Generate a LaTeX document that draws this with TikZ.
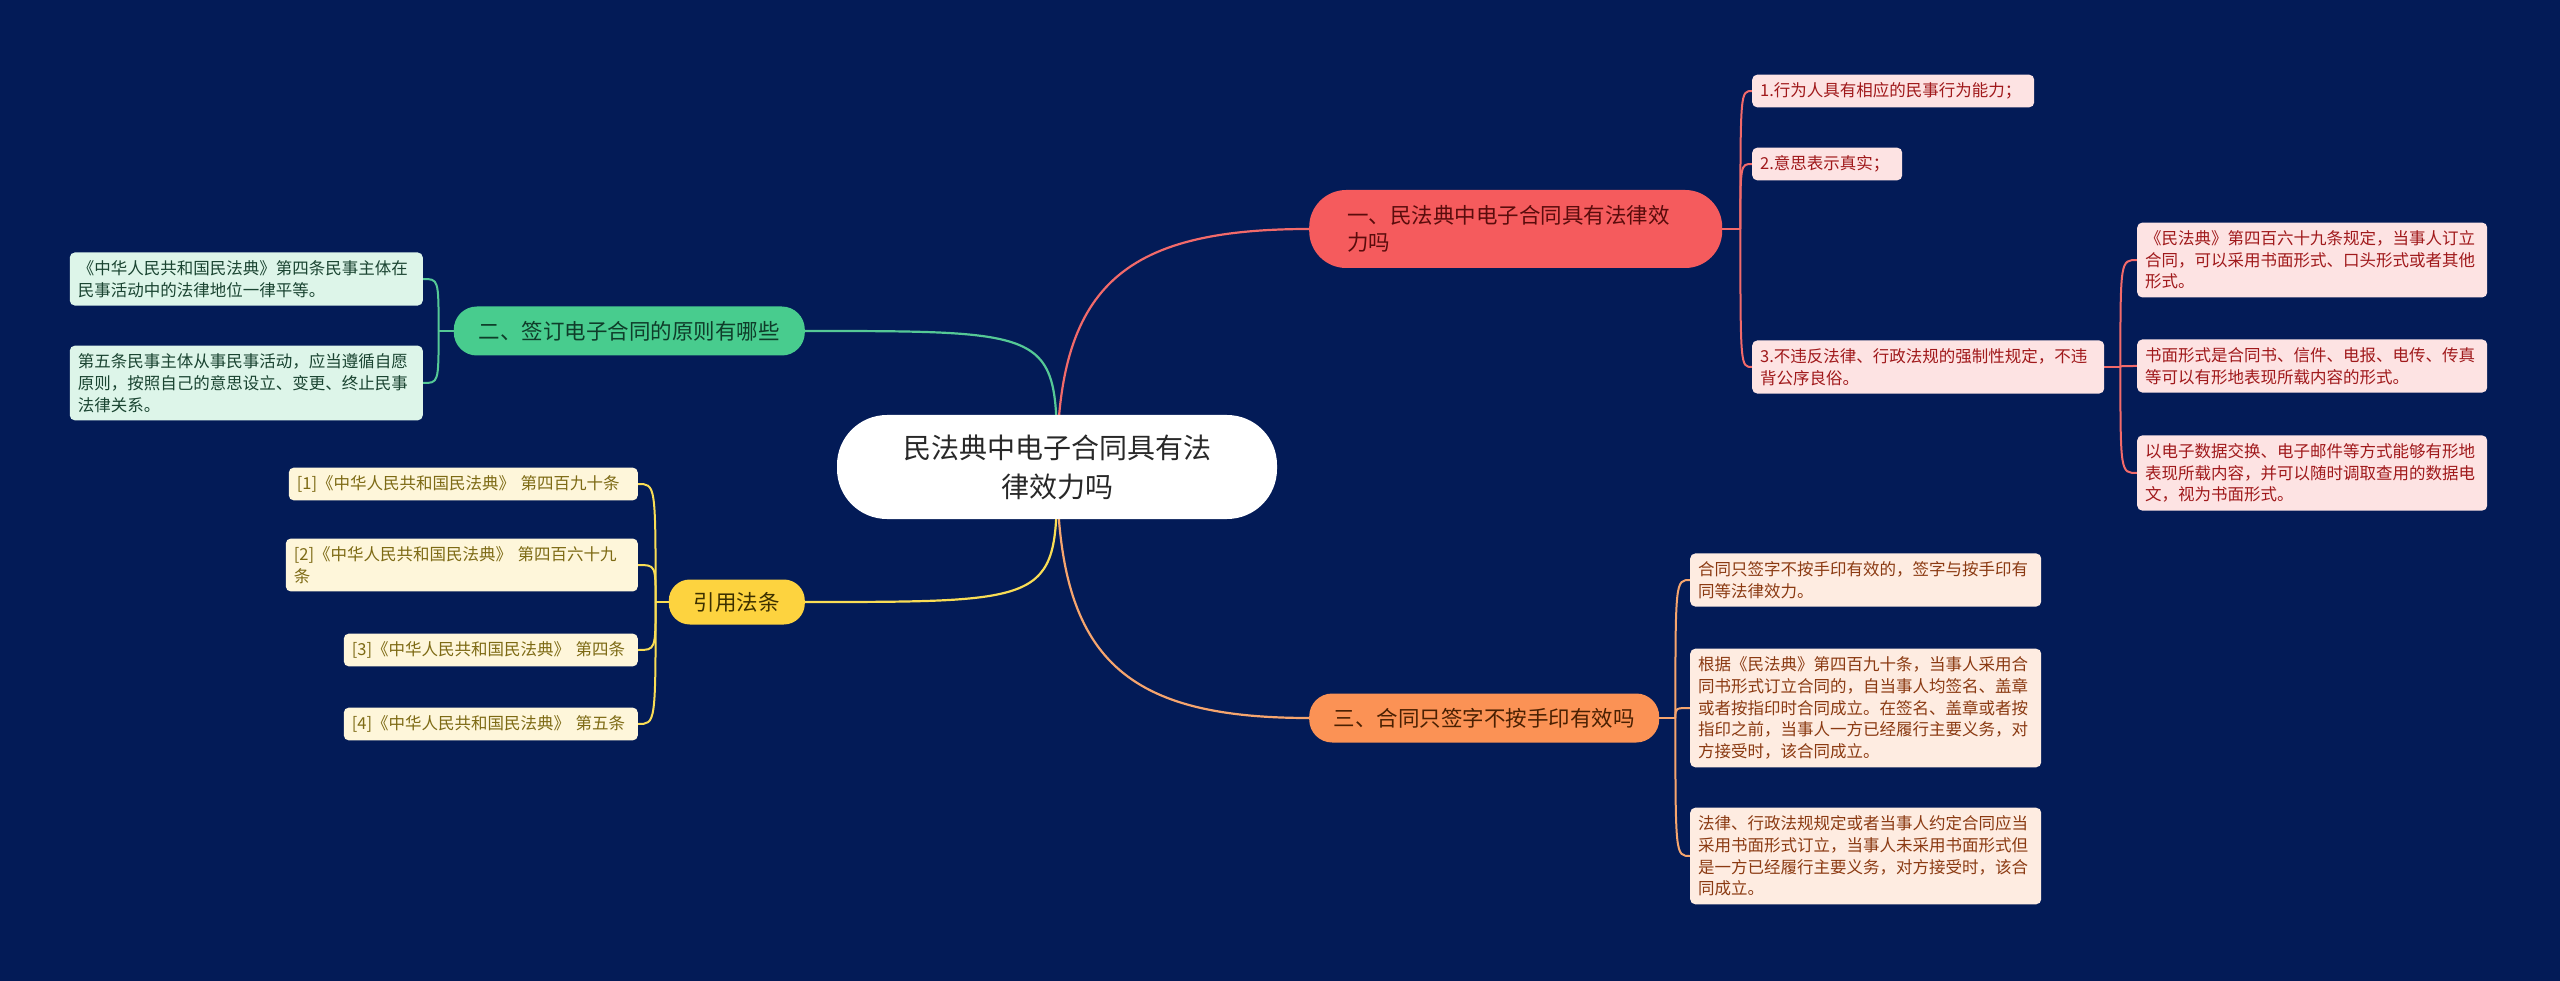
\documentclass[tikz,border=0pt]{standalone}
\usepackage{fontspec}
\usetikzlibrary{calc}
\setmainfont{Noto Sans CJK SC}
\definecolor{bgc}{RGB}{3,27,87}
\definecolor{cdark}{RGB}{40,40,40}
\definecolor{rfill}{RGB}{245,91,93}
\definecolor{rtext}{RGB}{90,12,12}
\definecolor{rline}{RGB}{242,106,106}
\definecolor{rleaf}{RGB}{253,227,227}
\definecolor{rltext}{RGB}{160,25,27}
\definecolor{gfill}{RGB}{72,204,142}
\definecolor{gtext}{RGB}{15,61,42}
\definecolor{gline}{RGB}{85,201,150}
\definecolor{gleaf}{RGB}{221,245,233}
\definecolor{gltext}{RGB}{26,68,49}
\definecolor{yfill}{RGB}{253,211,63}
\definecolor{ytext}{RGB}{60,48,0}
\definecolor{yline}{RGB}{249,221,85}
\definecolor{yleaf}{RGB}{254,246,218}
\definecolor{yltext}{RGB}{125,106,20}
\definecolor{ofill}{RGB}{251,146,85}
\definecolor{otext}{RGB}{74,32,2}
\definecolor{oline}{RGB}{246,165,110}
\definecolor{oleaf}{RGB}{254,236,225}
\definecolor{oltext}{RGB}{139,58,18}
\pgfdeclarelayer{bglayer}
\pgfsetlayers{bglayer,main}
\begin{document}
\begin{tikzpicture}[x=1pt,y=-1pt,
  centralbox/.style={fill=white, rounded corners=50pt, minimum width=440pt, minimum height=104pt,
    text width=330pt, align=center, inner sep=0pt, text=cdark, font=\fontsize{28}{39}\selectfont},
  branchbox/.style={rounded corners=23pt, minimum height=49pt, align=center, inner ysep=0pt,
    font=\fontsize{21.5}{27}\selectfont},
  leafbox/.style={rounded corners=5pt, inner xsep=8pt, inner ysep=8pt, align=left,
    font=\fontsize{16.5}{21.7}\selectfont},
  mainline/.style={line width=2.2pt},
  leafline/.style={line width=2pt}
]
\begin{pgfonlayer}{bglayer}
\fill[bgc] (0,0) rectangle (2560,981);
\end{pgfonlayer}
\useasboundingbox (0,0) rectangle (2560,981);

% central
\node[centralbox] (C) at (1057,467) {民法典中电子合同具有法\\律效力吗};

% branches
\node[branchbox, fill=rfill, text=rtext, anchor=west, rounded corners=37pt, minimum height=78pt,
  text width=337pt, inner xsep=38pt, align=left] (R) at (1309,229) {一、民法典中电子合同具有法律效\\力吗};
\node[branchbox, fill=gfill, text=gtext, anchor=east, text width=305pt, inner xsep=23pt] (G) at (805,331) {二、签订电子合同的原则有哪些};
\node[branchbox, fill=yfill, text=ytext, anchor=east, text width=90pt, inner xsep=23pt, minimum height=45pt, rounded corners=21pt] (Y) at (805,602) {引用法条};
\node[branchbox, fill=ofill, text=otext, anchor=west, text width=305pt, inner xsep=22.5pt] (O) at (1309,718) {三、合同只签字不按手印有效吗};

% red leaves
\node[leafbox, fill=rleaf, text=rltext, anchor=west, text width=266pt] (r1) at (1752,91) {1.行为人具有相应的民事行为能力；};
\node[leafbox, fill=rleaf, text=rltext, anchor=west, text width=134pt] (r2) at (1752,164) {2.意思表示真实；};
\node[leafbox, fill=rleaf, text=rltext, anchor=west, text width=336pt] (r3) at (1752,367) {3.不违反法律、行政法规的强制性规定，不违\\背公序良俗。};
\node[leafbox, fill=rleaf, text=rltext, anchor=west, text width=334pt] (s1) at (2137,260) {《民法典》第四百六十九条规定，当事人订立\\合同，可以采用书面形式、口头形式或者其他\\形式。};
\node[leafbox, fill=rleaf, text=rltext, anchor=west, text width=334pt] (s2) at (2137,366) {书面形式是合同书、信件、电报、电传、传真\\等可以有形地表现所载内容的形式。};
\node[leafbox, fill=rleaf, text=rltext, anchor=west, text width=334pt] (s3) at (2137,473) {以电子数据交换、电子邮件等方式能够有形地\\表现所载内容，并可以随时调取查用的数据电\\文，视为书面形式。};

% green leaves
\node[leafbox, fill=gleaf, text=gltext, anchor=east, text width=337pt] (g1) at (423,279) {《中华人民共和国民法典》第四条民事主体在\\民事活动中的法律地位一律平等。};
\node[leafbox, fill=gleaf, text=gltext, anchor=east, text width=337pt] (g2) at (423,383) {第五条民事主体从事民事活动，应当遵循自愿\\原则，按照自己的意思设立、变更、终止民事\\法律关系。};

% yellow leaves
\node[leafbox, fill=yleaf, text=yltext, anchor=east, text width=333pt] (y1) at (638,484) {[1]《中华人民共和国民法典》 第四百九十条};
\node[leafbox, fill=yleaf, text=yltext, anchor=east, text width=336pt] (y2) at (638,565) {[2]《中华人民共和国民法典》 第四百六十九\\条};
\node[leafbox, fill=yleaf, text=yltext, anchor=east, text width=278pt] (y3) at (638,650) {[3]《中华人民共和国民法典》 第四条};
\node[leafbox, fill=yleaf, text=yltext, anchor=east, text width=278pt] (y4) at (638,724) {[4]《中华人民共和国民法典》 第五条};

% orange leaves
\node[leafbox, fill=oleaf, text=oltext, anchor=west, text width=335pt] (o1) at (1690,580) {合同只签字不按手印有效的，签字与按手印有\\同等法律效力。};
\node[leafbox, fill=oleaf, text=oltext, anchor=west, text width=335pt] (o2) at (1690,708) {根据《民法典》第四百九十条，当事人采用合\\同书形式订立合同的，自当事人均签名、盖章\\或者按指印时合同成立。在签名、盖章或者按\\指印之前，当事人一方已经履行主要义务，对\\方接受时，该合同成立。};
\node[leafbox, fill=oleaf, text=oltext, anchor=west, text width=335pt] (o3) at (1690,856) {法律、行政法规规定或者当事人约定合同应当\\采用书面形式订立，当事人未采用书面形式但\\是一方已经履行主要义务，对方接受时，该合\\同成立。};

% trunk coordinates
\coordinate (rt) at ([xshift=18pt]R.east);
\coordinate (st) at ([xshift=16pt]r3.east);
\coordinate (gt) at ([xshift=-15pt]G.west);
\coordinate (yt) at ([xshift=-13pt]Y.west);
\coordinate (ot) at ([xshift=16pt]O.east);

\begin{pgfonlayer}{bglayer}
% main connectors
\draw[mainline, rline] (C.center) .. controls ($(C.center)!0.75!(C.center |- R.west)$) and ($(C.center |- R.west)!0.25!(R.west)$) .. (R.west);
\draw[mainline, gline] (C.center) .. controls (C.center |- G.east) .. (G.east);
\draw[mainline, yline] (C.center) .. controls (C.center |- Y.east) .. (Y.east);
\draw[mainline, oline] (C.center) .. controls ($(C.center)!0.75!(C.center |- O.west)$) and ($(C.center |- O.west)!0.25!(O.west)$) .. (O.west);
% red
\draw[leafline, rline] (R.east) -- (rt);
\foreach \n in {r1,r2,r3} \draw[leafline, rline] (rt) .. controls (rt |- \n.west) .. (\n.west);
\draw[leafline, rline] (r3.east) -- (st);
\foreach \n in {s1,s2,s3} \draw[leafline, rline] (st) .. controls (st |- \n.west) .. (\n.west);
% green
\draw[leafline, gline] (G.west) -- (gt);
\foreach \n in {g1,g2} \draw[leafline, gline] (gt) .. controls (gt |- \n.east) .. (\n.east);
% yellow
\draw[leafline, yline] (Y.west) -- (yt);
\foreach \n in {y1,y2,y3,y4} \draw[leafline, yline] (yt) .. controls (yt |- \n.east) .. (\n.east);
% orange
\draw[leafline, oline] (O.east) -- (ot);
\foreach \n in {o1,o2,o3} \draw[leafline, oline] (ot) .. controls (ot |- \n.west) .. (\n.west);
\end{pgfonlayer}
\end{tikzpicture}
\end{document}
